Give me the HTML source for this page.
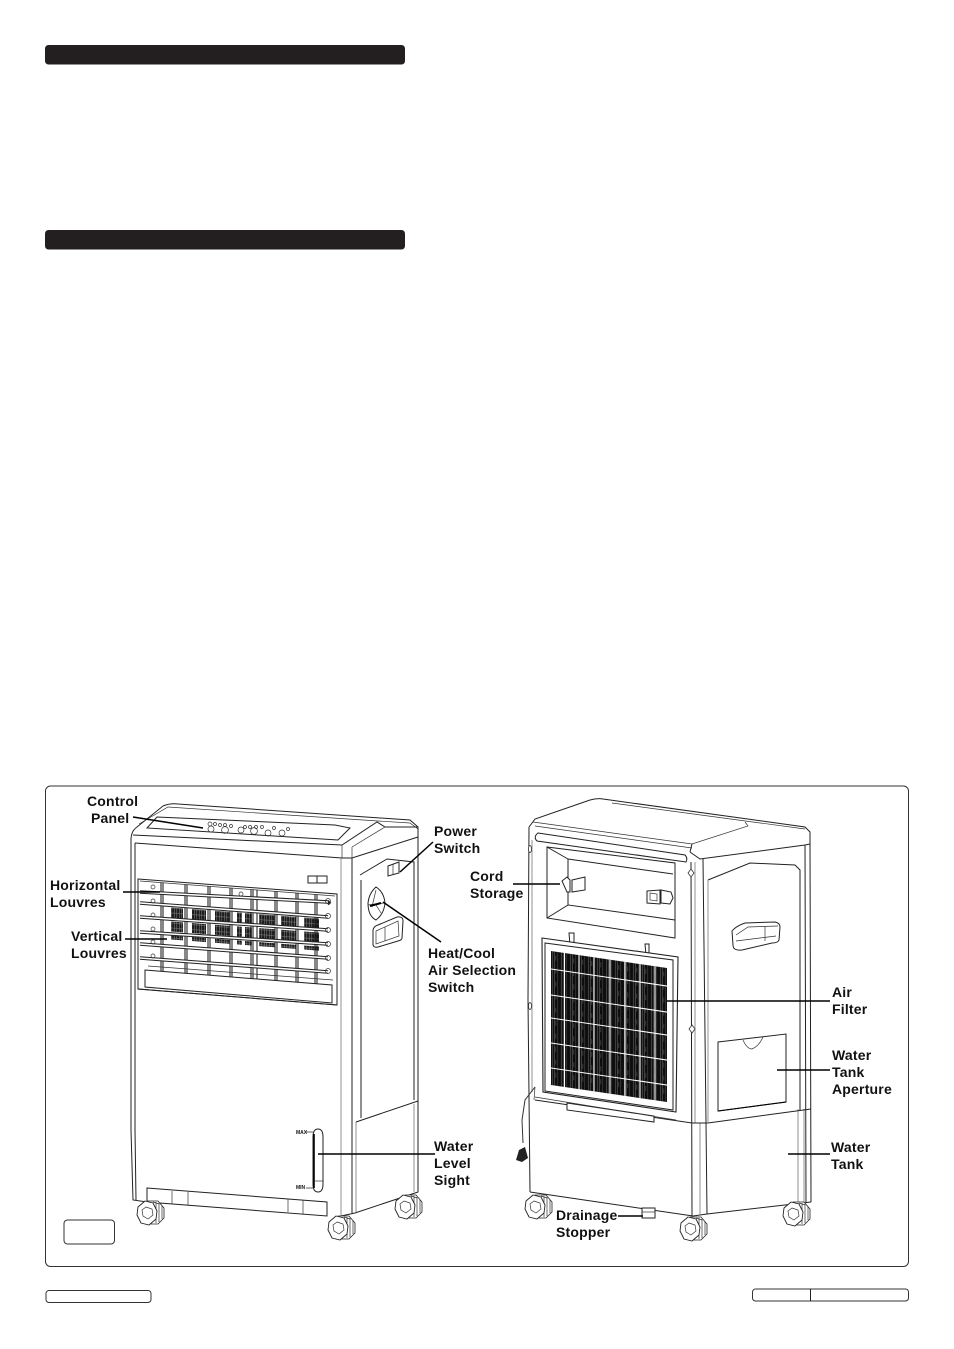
<!DOCTYPE html>
<html><head><meta charset="utf-8"><style>
html,body{margin:0;padding:0;background:#fff}
svg{display:block}
text{font-family:"Liberation Sans",sans-serif;font-weight:700;font-size:14px;letter-spacing:.2px;fill:#111}
.o{fill:none;stroke:#222;stroke-width:1}
.t{fill:none;stroke:#333;stroke-width:.7}
.g{fill:none;stroke:#777;stroke-width:.8}
.k{fill:none;stroke:#000;stroke-width:1.5}
.w{fill:#fff;stroke:#222;stroke-width:1}
</style></head><body>
<svg xmlns="http://www.w3.org/2000/svg" width="954" height="1349" viewBox="0 0 954 1349">
<defs>
<pattern id="st" width="9" height="13" patternUnits="userSpaceOnUse">
<rect width="9" height="13" fill="#0d0d0d"/>
<rect x="1" width=".5" height="13" fill="#777"/><rect x="3.2" width=".4" height="13" fill="#999"/><rect x="6.4" width=".5" height="13" fill="#555"/>
<rect x="4.5" y="4" width=".5" height="5" fill="#666"/>
</pattern>
<g id="wh">
<path d="M-3,-12 L8,-12 L14,-5 L14,5 L8,11 L-3,11Z" fill="#fff" stroke="#222" stroke-width=".8"/>
<path d="M3,-11 L9,-9 M6,-11 L6,10 M9,-10 L9,9 M12,-7 L12,6" class="t"/>
<path d="M-5,-12 L3,-10 L7,-2 L6,6 L-1,12 L-9,10 L-13,2 L-12,-6Z" fill="#fff" stroke="#222" stroke-width=".9"/>
<path d="M-4,-6 L2,-4 L3,2 L-2,6 L-7,3 L-8,-3Z" class="t"/>
</g>
<pattern id="mesh" width="5" height="5" patternUnits="userSpaceOnUse"><rect width="5" height="5" fill="#1a1a1a"/><path d="M0,1.5H5M1.5,0V5M3.8,0V5" stroke="#888" stroke-width=".55"/></pattern>
</defs>

<rect width="954" height="1349" fill="#fff"/>
<rect x="45" y="45" width="360" height="19.5" rx="3.5" fill="#231f20"/>
<rect x="45" y="230" width="360" height="19.5" rx="3.5" fill="#231f20"/>

<rect x="45.5" y="786" width="863" height="480.5" rx="5" fill="#fff" stroke="#333" stroke-width="1"/>
<rect x="64" y="1220" width="50.5" height="24" rx="3.5" fill="#fff" stroke="#333" stroke-width="1"/>
<rect x="46" y="1290.5" width="105" height="12" rx="3" fill="#fff" stroke="#333" stroke-width="1"/>
<rect x="752.5" y="1289" width="156" height="12" rx="3" fill="#fff" stroke="#333" stroke-width="1"/>
<path d="M810.5,1289V1301" stroke="#222"/>

<!-- LEFT UNIT -->
<path class="o" d="M131,840 Q131,831 137,827 L163,806 Q170,803 178,804 L410,820 L418,827 L418,845"/>
<path class="t" d="M139,824 L168,807 L378,821 L410,823 L418,829"/>
<path class="o" d="M147,828 L157,817 L335,825 L350,828 L338,840Z"/>
<path class="o" d="M133,835 L342,845 L377,822 L385,827 L418,827"/>
<path class="o" d="M135,843 L342,858 L352,858 L418,837"/>
<path class="t" d="M342,845 L342,858 M352,847 L385,827 M352,847 L352,858"/>
<path class="o" d="M131,840 L131,1130 L133,1200 L147,1202"/>
<path class="o" d="M135,843 L135,1130 L136,1200"/>
<path class="g" d="M341,858 L341,1216"/>
<path class="o" d="M352,858 L352,1213"/>
<path class="g" d="M356,1122 L356,1212"/>
<path class="o" d="M361,880 L361,1118"/>
<path class="o" d="M360,875 L387,859 L414,862 L414,1100"/>
<path class="o" d="M418,837 L418,1192 L355,1213 L341,1216"/>
<path class="g" d="M414,1104 L414,1192"/>
<path class="o" d="M356,1122 L418,1101"/>
<path class="w" d="M147,1188 L327,1202 L327,1216 L147,1202Z"/>
<path class="t" d="M172,1191 V1204 M188,1192 V1205 M288,1199 V1212 M303,1200 V1214"/>
<use href="#wh" x="150" y="1213"/><use href="#wh" x="341" y="1228"/><use href="#wh" x="408" y="1207"/>

<!-- control panel buttons -->
<g class="t">
<circle cx="210" cy="824" r="2"/><circle cx="215" cy="824" r="1.5"/><circle cx="220" cy="825" r="1.5"/><circle cx="225" cy="825" r="1.5"/><circle cx="231" cy="826" r="1.5"/>
<circle cx="211" cy="829" r="3"/><circle cx="225" cy="830" r="3.4"/><circle cx="241" cy="830" r="3"/><circle cx="254" cy="831" r="3.4"/><circle cx="268" cy="833" r="3"/><circle cx="282" cy="833" r="3"/>
<circle cx="245" cy="827" r="1.5"/><circle cx="250" cy="827" r="1.5"/><circle cx="256" cy="827" r="1.5"/><circle cx="262" cy="827" r="1.5"/><circle cx="274" cy="828" r="1.5"/><circle cx="288" cy="829" r="1.5"/>
</g>

<!-- grille -->
<path class="o" d="M138,879 L337,894 L337,1005 L138,989Z"/>
<path class="t" d="M140,881 L335,896"/>
<g transform="matrix(1,.075,0,1,138,879)">
<g fill="url(#mesh)">
<rect x="33" y="26" width="12" height="12"/><rect x="54" y="26" width="14" height="12"/><rect x="77" y="26" width="15" height="12"/><rect x="99" y="26" width="5" height="12"/><rect x="107" y="26" width="7" height="12"/><rect x="121" y="26" width="16" height="12"/><rect x="143" y="26" width="15" height="12"/><rect x="166" y="26" width="15" height="12"/>
<rect x="33" y="40" width="12" height="10"/><rect x="54" y="40" width="14" height="10"/><rect x="77" y="40" width="15" height="10"/><rect x="99" y="40" width="5" height="10"/><rect x="107" y="40" width="7" height="10"/><rect x="121" y="40" width="16" height="10"/><rect x="143" y="40" width="15" height="10"/><rect x="166" y="40" width="15" height="10"/>
<rect x="33" y="54" width="12" height="4"/><rect x="54" y="54" width="14" height="4"/><rect x="77" y="54" width="15" height="4"/><rect x="99" y="54" width="5" height="4"/><rect x="107" y="54" width="7" height="4"/><rect x="121" y="54" width="16" height="4"/><rect x="143" y="54" width="15" height="4"/><rect x="166" y="54" width="15" height="4"/>
</g>
<path d="M23,2V92 M25,2V92 M47,2V92 M49,2V92 M70,2V92 M72,2V92 M92,2V92 M94,2V92 M113,2V92 M115,2V92 M119,2V92 M137,2V92 M139,2V92 M158,2V92 M160,2V92 M177,2V92 M179,2V92" stroke="#111" stroke-width="1" fill="none"/>
</g>
<g fill="none" stroke="#222">
<path d="M140,892 L328,902 L330,904 M140,903 L328,917 M140,917 L328,930 M140,932 L328,944 M140,944 L328,958 M140,958 L328,972" stroke-width="3.6"/>
</g>
<g fill="none" stroke="#fff">
<path d="M140,892 L328,902 M140,903 L328,917 M140,917 L328,930 M140,932 L328,944 M140,944 L328,958 M140,958 L328,972" stroke-width="1.5"/>
</g>
<g class="t" fill="#fff">
<circle cx="153" cy="887" r="2"/><circle cx="241" cy="894" r="2"/><circle cx="328" cy="901" r="2.5"/><circle cx="328" cy="916" r="2.5"/><circle cx="328" cy="930" r="2.5"/><circle cx="328" cy="944" r="2.5"/><circle cx="328" cy="958" r="2.5"/><circle cx="328" cy="971" r="2.5"/>
<circle cx="153" cy="901" r="2"/><circle cx="153" cy="915" r="2"/><circle cx="153" cy="929" r="2"/><circle cx="153" cy="942" r="2"/><circle cx="153" cy="956" r="2"/>
</g>
<path class="w" d="M145,970 L332,985 L332,1003 L145,987Z"/>
<path class="t" d="M148,966 L333,980"/>
<path class="o" d="M138,989 L337,1005"/>

<path class="o" d="M308,876 H327 V883 H308Z M317,876 V883"/>
<path class="w" d="M388,866 L399,862 L399,873 L388,876Z"/><path class="t" d="M393,864 V875"/>
<path d="M376,887 Q384,892 385,903 Q384,914 376,920 Q368,916 368,903 Q369,893 376,887Z" class="w"/>
<path class="t" d="M368,905 L384,903 M372,907 L376,890 M376,905 L381,913"/>
<path class="k" style="stroke-width:2" d="M370,906 L381,903"/>
<path class="w" d="M373,930 Q374,926 378,925 L397,917 Q403,916 403,921 L402,938 Q402,940 398,941 L378,947 Q373,948 373,944Z"/>
<path class="t" d="M376,931 L398,921 L399,936 L376,944Z M385,927 V941"/>

<!-- sight -->
<path d="M313,1137 Q313,1129 318,1129 Q323,1129 323,1137 L323,1184 Q323,1192 318,1192 Q313,1192 313,1184Z" fill="#fff" stroke="#222" stroke-width="1"/>
<path d="M314,1134 V1188" stroke="#000" stroke-width="1.6"/>
<path class="t" d="M314,1181 H323"/>
<text x="296" y="1134" style="font-size:5px;letter-spacing:0">MAX</text><text x="296" y="1189" style="font-size:5px;letter-spacing:0">MIN</text>
<path class="t" d="M306,1132 H313 M306,1188 H313"/>

<!-- RIGHT UNIT -->
<path class="o" d="M529,827 L535,819 L590,800 Q597,798 603,799 L805,827 L810,832 L810,844"/>
<path class="t" d="M612,803 L805,829"/>
<path class="t" d="M533,822 L692,844 L748,826 L745,822 M535,826 L692,848"/>
<path class="w" d="M538,833 L685,855 Q688,858 686,862 L537,841 Q533,837 538,833Z"/>
<path class="o" d="M690,852 L700,859 L805,845 L810,844 M692,844 L690,852"/>
<path class="o" d="M529,827 L528,1000 L530,1192"/>
<path class="g" d="M532,840 L532,1092"/>
<path class="o" d="M691,862 L692,1216"/>
<path class="g" d="M695,862 L695,1123 M700,1123 L700,1214"/>
<path class="o" d="M703,859 L706,1122 L707,1214"/>
<path class="o" d="M805,845 L806,1202"/>
<path class="o" d="M810,844 L811,1202"/>
<path class="g" d="M798,1109 L798,1204 M804,1109 L804,1203"/>
<path class="o" d="M708,880 L750,863 L795,865 L800,870 L800,1110"/>
<path class="g" d="M708,880 L708,1122"/>
<path class="o" d="M530,1192 L693,1216 L707,1214 L811,1202"/>
<path class="o" d="M535,1100 L692,1123 L708,1123 L811,1109"/>
<path class="o" d="M547,847 L675,863 L675,938 L547,918Z"/>
<path class="o" d="M568,859 L673,874 M568,859 L568,905 L675,920 M547,847 L568,859 M547,918 L568,905"/>
<path class="w" d="M562,881 L567,877 L570,880 L570,892 L567,892 Z"/>
<path class="w" d="M572,880 L585,877 L585,890 L572,892Z"/>
<path class="w" d="M647,891 L660,890 L660,904 L647,903Z"/><path class="t" d="M650,893 L657,894 L657,901 L650,900Z"/>
<path class="w" d="M661,890 L671,892 L673,898 L670,904 L661,903Z"/>
<path class="w" d="M569,933 H574 V945 H570Z M645,944 H649 V955 H646Z"/>
<path class="w" d="M542,938 L678,957 L676,1112 L543,1092Z" style="stroke-width:1.1"/>
<path class="o" d="M545,943 L673,960 L673,1110 L545,1091Z"/>
<path class="w" d="M567,1103 L654,1116 L654,1122 L567,1110Z"/>
<path class="t" d="M535,1097 L676,1120"/>
<g transform="matrix(1,.147,0,1,551,951)">
<rect x="0" width="116" height="134" fill="url(#st)"/>
<g stroke="#fff" stroke-width="1.1" fill="none">
<path d="M13.5,0V134 M28,0V134 M43,0V134 M59,0V134 M74,0V134 M89,0V134 M104,0V134"/>
<path d="M0,18H116 M0,44H116 M0,67H116 M0,92H116 M0,117H116"/>
</g>
</g>
<path class="w" d="M732,931 Q736,926 745,923 L775,922 Q780,923 780,927 L779,940 Q778,943 772,943 L742,950 Q733,951 733,945Z"/>
<path class="t" d="M736,935 L748,927 L778,926 M736,941 L776,936 M765,926 V941"/>
<path class="w" d="M718,1042 L786,1034 L786,1102 L718,1111Z"/>
<path class="k" style="stroke-width:1.1" d="M718,1111 L786,1102"/>
<path class="t" d="M743,1040 Q747,1049 752,1049 Q759,1046 763,1037"/>
<g fill="#fff" stroke="#333" stroke-width=".8"><path d="M691,869 L694,873 L691,877 L688,873Z"/><path d="M692,1025 L695,1029 L692,1033 L689,1029Z"/><ellipse cx="530" cy="1006" rx="1.5" ry="3.5"/><ellipse cx="530" cy="849" rx="1.5" ry="3.5"/></g>
<path class="t" style="stroke-width:1" d="M535,1087 L525,1100 L522,1120 L523,1143"/>
<path class="t" d="M535,1087 L534,1100"/>
<path d="M519,1150 L525,1147 L528,1158 L522,1162 L516,1160Z" fill="#222"/>
<path class="w" d="M642,1208 H655 V1218 H642Z"/><path class="t" d="M642,1212 H655"/>
<use href="#wh" x="538" y="1207"/><use href="#wh" x="693" y="1229"/><use href="#wh" x="796" y="1214"/>

<!-- leaders -->
<g class="k">
<path d="M133,817 L203,828"/>
<path d="M433,842 L400,872"/>
<path d="M383,902 L441,942"/>
<path d="M123,892 H160"/>
<path d="M125,939 H167"/>
<path d="M513,884 H560"/>
<path d="M667,1001 H830"/>
<path d="M777,1070 H830"/>
<path d="M788,1154 H830"/>
<path d="M318,1154 H435"/>
<path d="M618,1216 H643"/>
</g>

<!-- labels -->
<text x="87" y="806">Control</text><text x="91" y="823">Panel</text>
<text x="50" y="890">Horizontal</text><text x="50" y="907">Louvres</text>
<text x="71" y="941">Vertical</text><text x="71" y="958">Louvres</text>
<text x="434" y="836">Power</text><text x="434" y="853">Switch</text>
<text x="428" y="958">Heat/Cool</text><text x="428" y="975">Air Selection</text><text x="428" y="992">Switch</text>
<text x="470" y="881">Cord</text><text x="470" y="898">Storage</text>
<text x="832" y="997">Air</text><text x="832" y="1014">Filter</text>
<text x="832" y="1060">Water</text><text x="832" y="1077">Tank</text><text x="832" y="1094">Aperture</text>
<text x="831" y="1152">Water</text><text x="831" y="1169">Tank</text>
<text x="434" y="1151">Water</text><text x="434" y="1168">Level</text><text x="434" y="1185">Sight</text>
<text x="556" y="1220">Drainage</text><text x="556" y="1237">Stopper</text>
</svg>
</body></html>
